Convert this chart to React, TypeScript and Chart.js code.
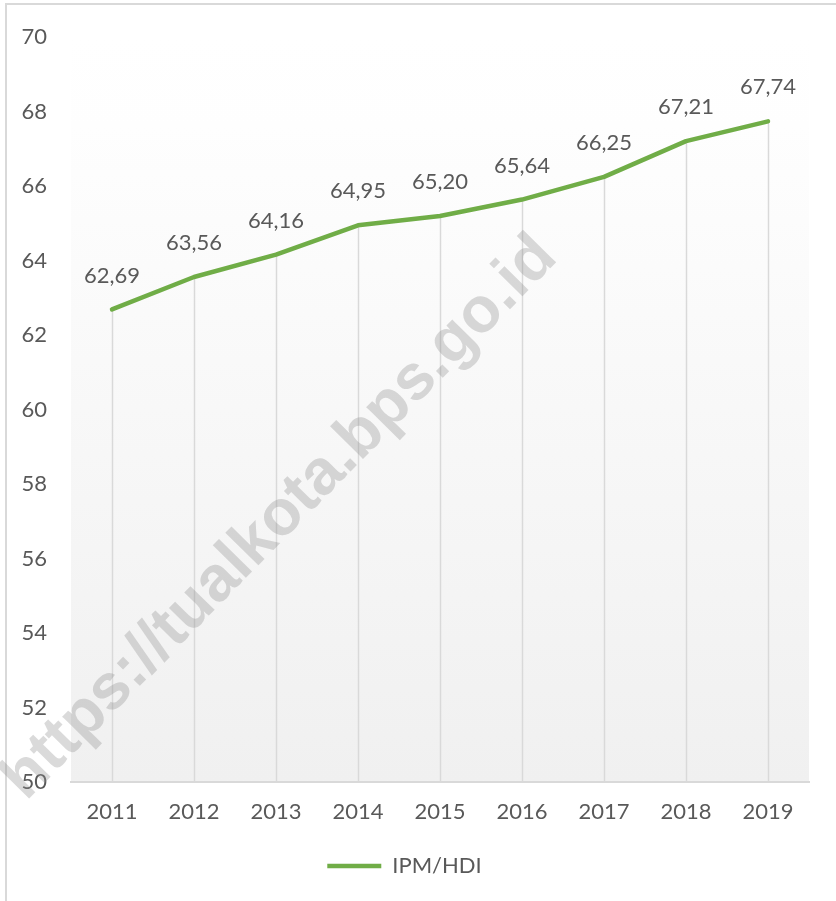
import React, { useEffect, useRef } from "react";
import { Chart, registerables } from "chart.js";

Chart.register(...registerables);

const years = ["2011", "2012", "2013", "2014", "2015", "2016", "2017", "2018", "2019"];
const ipmValues = [62.69, 63.56, 64.16, 64.95, 65.2, 65.64, 66.25, 67.21, 67.74];
const seriesLabel = "IPM/HDI";
const yMin = 50;
const yMax = 70;
const yStep = 2;
const watermarkText = "https://tualkota.bps.go.id";

const GREEN = "#70AD47";
const TEXT = "#595959";
const LINE_GRAY = "#d9d9d9";
const FONT = "Lato, 'Open Sans', sans-serif";

const fmt = (v: number) => v.toFixed(2).replace(".", ",");

const backgroundPlugin = {
  id: "plotBackground",
  beforeDraw(chart: any) {
    const { ctx, chartArea } = chart;
    if (!chartArea) return;
    const g = ctx.createLinearGradient(0, chartArea.top, 0, chartArea.bottom);
    g.addColorStop(0, "#ffffff");
    g.addColorStop(0.12, "#fefefe");
    g.addColorStop(1, "#f0f0f0");
    ctx.save();
    ctx.fillStyle = g;
    ctx.fillRect(chartArea.left, chartArea.top, chartArea.right - chartArea.left, chartArea.bottom - chartArea.top);
    ctx.restore();
  },
};

const dropLinesPlugin = {
  id: "dropLines",
  beforeDatasetsDraw(chart: any) {
    const { ctx, chartArea, scales } = chart;
    const xs = scales.x;
    const ys = scales.y;
    ctx.save();
    ctx.strokeStyle = LINE_GRAY;
    ctx.lineWidth = 1.5;
    ipmValues.forEach((v, i) => {
      const x = Math.round(xs.getPixelForValue(i)) + 0.5;
      const y = ys.getPixelForValue(v);
      ctx.beginPath();
      ctx.moveTo(x, y);
      ctx.lineTo(x, chartArea.bottom);
      ctx.stroke();
    });
    // watermark
    ctx.translate(280, 518);
    ctx.rotate((-45.5 * Math.PI) / 180);
    ctx.font = "bold 64px 'Liberation Sans', Arial, sans-serif";
    ctx.fillStyle = "rgba(140,140,140,0.32)";
    ctx.textAlign = "center";
    ctx.textBaseline = "middle";
    ctx.fillText(watermarkText, 0, 0);
    ctx.restore();
  },
};

const dataLabelsPlugin = {
  id: "dataLabelsCustom",
  afterDatasetsDraw(chart: any) {
    const { ctx, scales } = chart;
    const xs = scales.x;
    const ys = scales.y;
    ctx.save();
    ctx.font = `22px ${FONT}`;
    ctx.fillStyle = TEXT;
    ctx.textAlign = "center";
    ctx.textBaseline = "middle";
    ipmValues.forEach((v, i) => {
      const x = xs.getPixelForValue(i);
      const y = ys.getPixelForValue(v);
      ctx.fillText(fmt(v), x, y - 34);
    });
    ctx.restore();
  },
};

export default function App() {
  const canvasRef = useRef<HTMLCanvasElement | null>(null);

  useEffect(() => {
    const canvas = canvasRef.current;
    if (!canvas) return;
    const chart = new Chart(canvas, {
      type: "line",
      data: {
        labels: years,
        datasets: [
          {
            label: seriesLabel,
            data: ipmValues,
            borderColor: GREEN,
            backgroundColor: GREEN,
            borderWidth: 4.5,
            borderCapStyle: "round",
            borderJoinStyle: "round",
            pointRadius: 0,
            pointHoverRadius: 0,
            tension: 0,
            fill: false,
          },
        ],
      },
      options: {
        responsive: false,
        animation: false,
        events: [],
        layout: { padding: { left: 0, right: 27, top: 29, bottom: 14 } },
        scales: {
          x: {
            type: "category",
            offset: true,
            grid: { display: false, drawTicks: false },
            border: { display: true, color: LINE_GRAY, width: 2 },
            ticks: { color: TEXT, font: { family: FONT, size: 22 }, padding: 17, maxRotation: 0 },
            afterFit(scale: any) {
              scale.height = 63;
            },
          },
          y: {
            type: "linear",
            min: yMin,
            max: yMax,
            grid: { display: false, drawTicks: false },
            border: { display: false },
            ticks: { stepSize: yStep, color: TEXT, font: { family: FONT, size: 22 }, padding: 24 },
            afterFit(scale: any) {
              scale.width = 71;
            },
          },
        },
        plugins: {
          tooltip: { enabled: false },
          legend: {
            display: true,
            position: "bottom",
            labels: {
              usePointStyle: true,
              pointStyle: "line",
              pointStyleWidth: 54,
              color: TEXT,
              font: { family: FONT, size: 22 },
              padding: 10,
            },
          },
        },
      },
      plugins: [backgroundPlugin, dropLinesPlugin, dataLabelsPlugin],
    } as any);
    return () => chart.destroy();
  }, []);

  return (
    <div
      style={{
        position: "fixed",
        left: 0,
        top: 0,
        width: 836,
        height: 901,
        overflow: "hidden",
        background: "#ffffff",
      }}
    >
      <div
        style={{
          position: "absolute",
          left: 5,
          top: 3,
          width: 900,
          height: 1000,
          border: "2px solid #d9d9d9",
          boxSizing: "border-box",
        }}
      />
      <canvas ref={canvasRef} width={836} height={901} style={{ position: "absolute", left: 0, top: 0, width: 836, height: 901 }} />
    </div>
  );
}
